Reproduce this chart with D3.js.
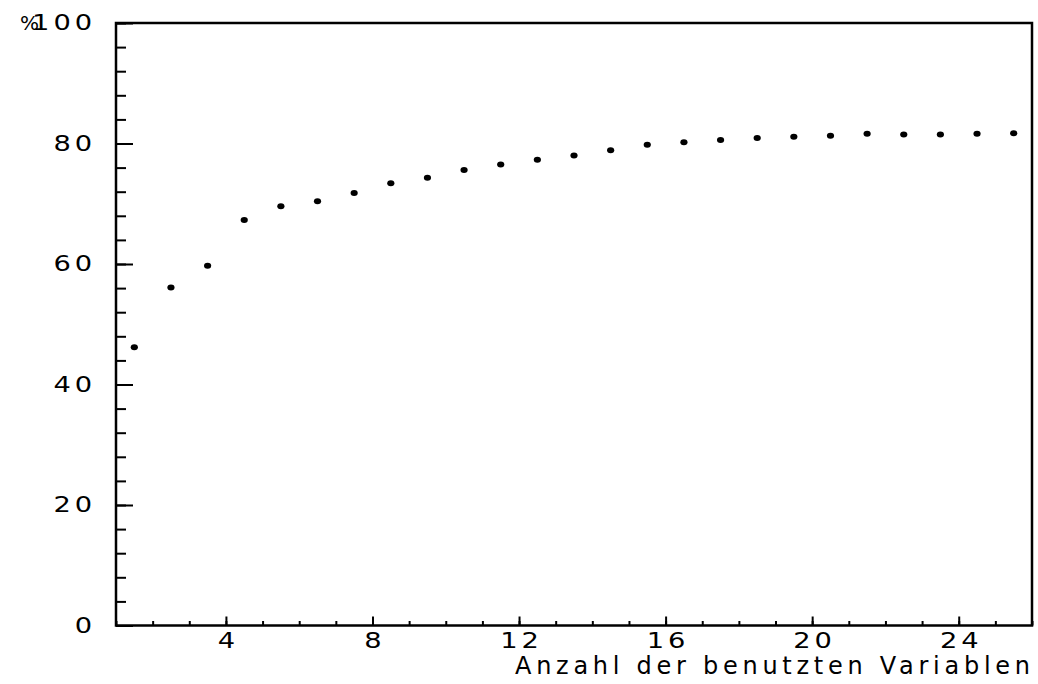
<!DOCTYPE html>
<html>
<head>
<meta charset="utf-8">
<script src="https://cdn.jsdelivr.net/npm/d3@7"></script>
<style>
  body { margin: 0; background: #fff; }
  svg { display: block; }
  .axis text { font-family: "DejaVu Sans", sans-serif; fill: #000; }
  .axis line { stroke: #000; stroke-width: 2; }
  .axis path { display: none; }
</style>
</head>
<body>
<div id="chart"></div>
<script>
// number of variables used (x) and percentage (y)
var nVars = [1.5, 2.5, 3.5, 4.5, 5.5, 6.5, 7.5, 8.5, 9.5, 10.5, 11.5, 12.5,
             13.5, 14.5, 15.5, 16.5, 17.5, 18.5, 19.5, 20.5, 21.5, 22.5, 23.5, 24.5, 25.5];
var percent = [46.2, 56.1, 59.7, 67.3, 69.6, 70.4, 71.8, 73.4, 74.3, 75.6, 76.5, 77.3,
               78.0, 78.9, 79.8, 80.2, 80.6, 80.9, 81.1, 81.3, 81.6, 81.5, 81.5, 81.6, 81.7];

var xMajor = [4, 8, 12, 16, 20, 24];
var xMinor = d3.range(1, 27, 1);
var yMajor = [0, 20, 40, 60, 80, 100];
var yMinor = d3.range(0, 101, 4);
var xTitle = "Anzahl der benutzten Variablen";

var W = 1038, H = 684;
var margin = {top: 23, right: 6, bottom: 58.5, left: 116};
var width = W - margin.left - margin.right,
    height = H - margin.top - margin.bottom;

var stretch = 1.3;   // the plotter font is wider than DejaVu

var svg = d3.select("#chart").append("svg")
    .attr("width", W)
    .attr("height", H)
  .append("g")
    .attr("transform", "translate(" + margin.left + "," + margin.top + ")");

var x = d3.scaleLinear().domain([1, 26]).range([0, width]);
var y = d3.scaleLinear().domain([0, 100]).range([height, 0]);

// minor ticks
svg.append("g").attr("class", "axis")
  .call(d3.axisLeft(y).tickValues(yMinor).tickFormat("").tickSize(-10));
svg.append("g").attr("class", "axis")
  .attr("transform", "translate(0," + height + ")")
  .call(d3.axisBottom(x).tickValues(xMinor).tickFormat("").tickSize(-4.5));

// major ticks with labels
var yAxis = svg.append("g").attr("class", "axis")
  .call(d3.axisLeft(y).tickValues(yMajor).tickSize(-17).tickPadding(24));
yAxis.selectAll("text")
  .attr("x", -24 / stretch + 3)
  .attr("transform", "scale(" + stretch + ",1)")
  .style("font-size", "21px")
  .style("letter-spacing", "3px");

var xAxis = svg.append("g").attr("class", "axis")
  .attr("transform", "translate(0," + height + ")")
  .call(d3.axisBottom(x).tickValues(xMajor).tickSize(-9).tickPadding(8));
xAxis.selectAll("text")
  .attr("dx", 1.5)
  .attr("transform", "scale(" + stretch + ",1)")
  .style("font-size", "21px")
  .style("letter-spacing", "3px");

// percent sign next to the top label
svg.append("text")
  .attr("x", -96)
  .attr("y", y(100))
  .attr("dy", "0.36em")
  .attr("text-anchor", "start")
  .style("font-family", "DejaVu Sans, sans-serif")
  .style("font-size", "20px")
  .text("%");

// frame
svg.append("rect")
  .attr("x", 0).attr("y", 0)
  .attr("width", width).attr("height", height)
  .style("fill", "none")
  .style("stroke", "#000")
  .style("stroke-width", 2.5);

// x title
svg.append("text")
  .attr("x", width - 2)
  .attr("y", height + 48)
  .attr("text-anchor", "end")
  .attr("textLength", 515)
  .attr("lengthAdjust", "spacing")
  .style("font-family", "DejaVu Sans, sans-serif")
  .style("font-size", "24px")
  .text(xTitle);

// points
svg.append("g")
  .selectAll("ellipse")
  .data(nVars)
  .enter()
  .append("ellipse")
    .attr("cx", function(d) { return x(d); })
    .attr("cy", function(d, i) { return y(percent[i]); })
    .attr("rx", 3.6)
    .attr("ry", 3)
    .style("fill", "#000");
</script>
</body>
</html>
